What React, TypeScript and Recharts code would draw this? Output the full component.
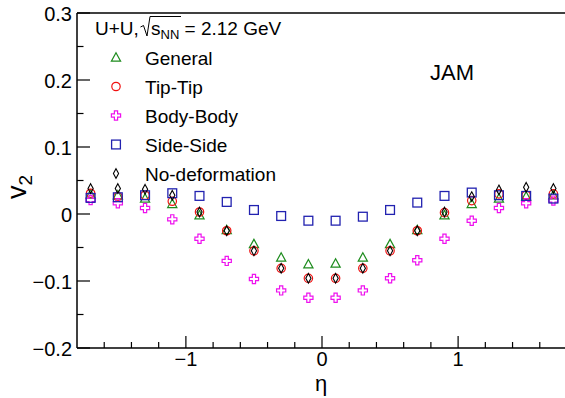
import { ReferenceLine, Scatter, ScatterChart, XAxis, YAxis } from "recharts"

const ETA = [-1.7, -1.5, -1.3, -1.1, -0.9, -0.7, -0.5, -0.3, -0.1, 0.1, 0.3, 0.5, 0.7, 0.9, 1.1, 1.3, 1.5, 1.7]

const GENERAL = [0.029, 0.028, 0.023, 0.015, -0.002, -0.024, -0.045, -0.065, -0.075, -0.074, -0.065, -0.045, -0.024, -0.002, 0.015, 0.023, 0.026, 0.028]
const TIP_TIP = [0.031, 0.026, 0.028, 0.019, 0.003, -0.025, -0.055, -0.081, -0.096, -0.096, -0.081, -0.055, -0.025, 0.002, 0.02, 0.03, 0.028, 0.03]
const BODY_BODY = [0.021, 0.016, 0.009, -0.008, -0.037, -0.07, -0.097, -0.114, -0.125, -0.125, -0.114, -0.096, -0.069, -0.037, -0.01, 0.009, 0.016, 0.02]
const SIDE_SIDE = [0.024, 0.025, 0.028, 0.031, 0.027, 0.018, 0.006, -0.003, -0.01, -0.01, -0.004, 0.006, 0.017, 0.027, 0.032, 0.028, 0.027, 0.023]
const NO_DEF = [0.038, 0.038, 0.037, 0.028, 0.003, -0.025, -0.055, -0.081, -0.096, -0.096, -0.081, -0.055, -0.025, 0.003, 0.026, 0.036, 0.04, 0.038]

const X_TICKS = [-1.6, -1.4, -1.2, -1, -0.8, -0.6, -0.4, -0.2, 0, 0.2, 0.4, 0.6, 0.8, 1, 1.2, 1.4, 1.6]
const X_LABELS = [-1, 0, 1]
const Y_TICKS = [-0.2, -0.15, -0.1, -0.05, 0, 0.05, 0.1, 0.15, 0.2, 0.25, 0.3]
const Y_LABELS = [-0.2, -0.1, 0, 0.1, 0.2, 0.3]

const FONT = '"Liberation Sans", Arial, Helvetica, sans-serif'

const GREEN = "#1e8c1e"
const RED = "#f01010"
const MAGENTA = "#ee11ee"
const BLUE = "#2222b0"

const rows = (vals: number[]) => ETA.map((x, i) => ({ x, y: vals[i] }))

const fmt = (v: number) => String(v).replace("-", "\u2212")

type Pt = { cx?: number; cy?: number }

function triangle(color: string) {
  return ({ cx = 0, cy = 0 }: Pt) => (
    <path
      d={`M${cx},${cy - 4.8} L${cx + 4.6},${cy + 3.6} L${cx - 4.6},${cy + 3.6} Z`}
      fill="none"
      stroke={color}
      strokeWidth={1.2}
    />
  )
}

function circle(color: string) {
  return ({ cx = 0, cy = 0 }: Pt) => <circle cx={cx} cy={cy} r={4.2} fill="none" stroke={color} strokeWidth={1.2} />
}

function square(color: string) {
  return ({ cx = 0, cy = 0 }: Pt) => (
    <rect x={cx - 4.4} y={cy - 4.4} width={8.8} height={8.8} fill="none" stroke={color} strokeWidth={1.3} />
  )
}

function cross(color: string) {
  return ({ cx = 0, cy = 0 }: Pt) => {
    const a = 1.6
    const b = 4.6
    const d = `M${cx - a},${cy - b} L${cx + a},${cy - b} L${cx + a},${cy - a} L${cx + b},${cy - a} L${cx + b},${cy + a} L${cx + a},${cy + a} L${cx + a},${cy + b} L${cx - a},${cy + b} L${cx - a},${cy + a} L${cx - b},${cy + a} L${cx - b},${cy - a} L${cx - a},${cy - a} Z`
    return <path d={d} fill="none" stroke={color} strokeWidth={1.2} />
  }
}

function diamond(color: string) {
  return ({ cx = 0, cy = 0 }: Pt) => (
    <path
      d={`M${cx},${cy - 4.8} L${cx + 2.6},${cy} L${cx},${cy + 4.8} L${cx - 2.6},${cy} Z`}
      fill="none"
      stroke={color}
      strokeWidth={1.1}
    />
  )
}

const SERIES = [
  { name: "General", vals: GENERAL, shape: triangle(GREEN) },
  { name: "Tip-Tip", vals: TIP_TIP, shape: circle(RED) },
  { name: "Body-Body", vals: BODY_BODY, shape: cross(MAGENTA) },
  { name: "Side-Side", vals: SIDE_SIDE, shape: square(BLUE) },
  { name: "No-deformation", vals: NO_DEF, shape: diamond("#000") },
]

function XTick(props: any) {
  const { x, y, payload } = props
  const v = payload.value as number
  const major = X_LABELS.includes(v)
  return (
    <g>
      <line x1={x} x2={x} y1={y} y2={y - (major ? 12 : 6)} stroke="#000" strokeWidth={1.2} />
      {major && (
        <text x={x} y={y + 18} textAnchor="middle" fontSize={20} fontFamily={FONT} fill="#000">
          {fmt(v)}
        </text>
      )}
    </g>
  )
}

function YTick(props: any) {
  const { x, y, payload } = props
  const v = payload.value as number
  const major = Y_LABELS.includes(v)
  return (
    <g>
      <line x1={x} x2={x + (major ? 13 : 6.5)} y1={y} y2={y} stroke="#000" strokeWidth={1.2} />
      {major && (
        <text x={x - 5} y={y + 7.5} textAnchor="end" fontSize={20} fontFamily={FONT} fill="#000">
          {fmt(v)}
        </text>
      )}
    </g>
  )
}

function Overlay() {
  return (
    <svg
      width={565}
      height={398}
      style={{ position: "absolute", left: 0, top: 0, pointerEvents: "none" }}
    >
      <g fontFamily={FONT} fill="#000">
        <text x={95} y={35} fontSize={19}>
          U+U,
        </text>
        <path d="M140.5,27 L143.5,25.5 L147,36 L150,16.5 L181,16.5" fill="none" stroke="#000" strokeWidth={1} />
        <text x={151} y={35} fontSize={19}>
          s
          <tspan fontSize={13} dy={4}>
            NN
          </tspan>
          <tspan dy={-4} fontSize={19}>
            {" "}= 2.12 GeV
          </tspan>
        </text>
        {SERIES.map((s, i) => {
          const cy = 57.5 + i * 29
          return (
            <g key={s.name}>
              {s.shape({ cx: 116, cy })}
              <text x={145} y={cy + 7} fontSize={19}>
                {s.name}
              </text>
            </g>
          )
        })}
        <text x={430} y={80} fontSize={22}>
          JAM
        </text>
        <text x={321} y={391} fontSize={22} textAnchor="middle">
          η
        </text>
        <text transform="translate(26,199) rotate(-90)" fontSize={27}>
          v
          <tspan fontSize={19} dy={6}>
            2
          </tspan>
        </text>
      </g>
    </svg>
  )
}

export default function App() {
  return (
    <div
      style={{
        position: "fixed",
        left: 0,
        top: 0,
        width: 565,
        height: 398,
        overflow: "hidden",
        background: "#fff",
      }}
    >
      <ScatterChart width={567} height={398} margin={{ top: 13, right: 0, bottom: 0, left: 0 }}>
        <XAxis
          dataKey="x"
          type="number"
          domain={[-1.8, 1.8]}
          ticks={X_TICKS}
          interval={0}
          height={50}
          tickSize={0}
          tickMargin={0}
          tickLine={false}
          axisLine={{ stroke: "#000", strokeWidth: 1.5 }}
          tick={XTick}
        />
        <YAxis
          dataKey="y"
          type="number"
          domain={[-0.2, 0.3]}
          ticks={Y_TICKS}
          interval={0}
          width={77}
          tickSize={0}
          tickMargin={0}
          tickLine={false}
          axisLine={{ stroke: "#000", strokeWidth: 1.5 }}
          tick={YTick}
        />
        <ReferenceLine y={0.3} stroke="#000" strokeWidth={1.5} />
        <ReferenceLine x={1.8} stroke="#000" strokeWidth={1.5} />
        {SERIES.map((s) => (
          <Scatter
            key={s.name}
            name={s.name}
            data={rows(s.vals)}
            shape={s.shape}
            isAnimationActive={false}
          />
        ))}
      </ScatterChart>
      <Overlay />
    </div>
  )
}
